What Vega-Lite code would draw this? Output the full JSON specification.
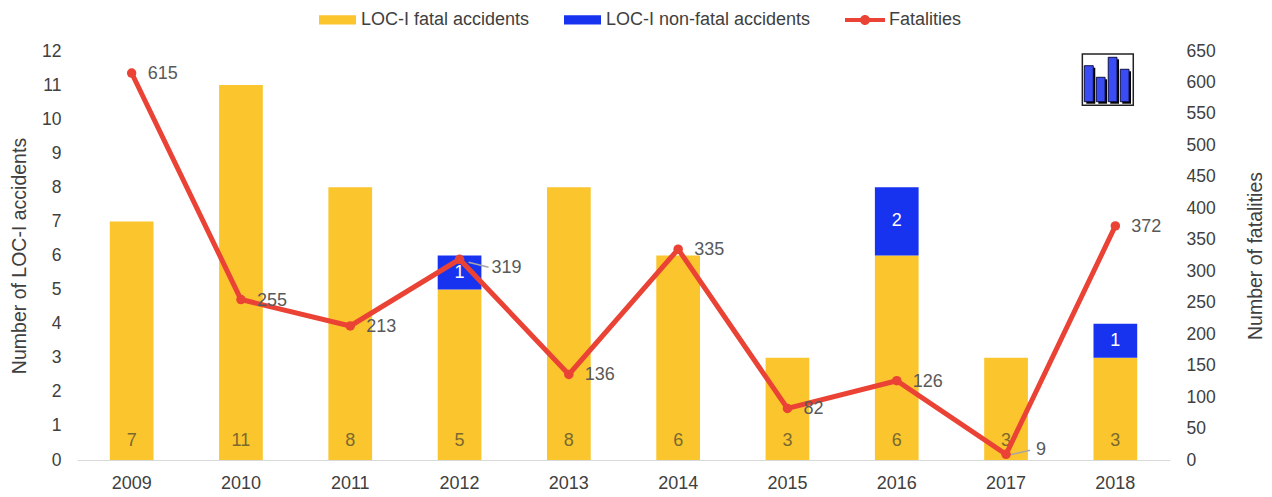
{"$schema":"https://vega.github.io/schema/vega-lite/v6.json","width":1093,"height":409,"autosize":{"type":"none"},"padding":{"left":77,"top":51,"right":102,"bottom":37},"background":"white","config":{"view":{"stroke":null},"font":"Liberation Sans"},"datasets":{"bars":[{"year":"2009","type":"LOC-I fatal accidents","count":7,"base":0,"top":7},{"year":"2010","type":"LOC-I fatal accidents","count":11,"base":0,"top":11},{"year":"2011","type":"LOC-I fatal accidents","count":8,"base":0,"top":8},{"year":"2012","type":"LOC-I fatal accidents","count":5,"base":0,"top":5},{"year":"2013","type":"LOC-I fatal accidents","count":8,"base":0,"top":8},{"year":"2014","type":"LOC-I fatal accidents","count":6,"base":0,"top":6},{"year":"2015","type":"LOC-I fatal accidents","count":3,"base":0,"top":3},{"year":"2016","type":"LOC-I fatal accidents","count":6,"base":0,"top":6},{"year":"2017","type":"LOC-I fatal accidents","count":3,"base":0,"top":3},{"year":"2018","type":"LOC-I fatal accidents","count":3,"base":0,"top":3},{"year":"2012","type":"LOC-I non-fatal accidents","count":1,"base":5,"top":6,"middle":5.5},{"year":"2016","type":"LOC-I non-fatal accidents","count":2,"base":6,"top":8,"middle":7},{"year":"2018","type":"LOC-I non-fatal accidents","count":1,"base":3,"top":4,"middle":3.5}],"line":[{"year":"2009","fatalities":615,"series":"Fatalities","group":"near"},{"year":"2010","fatalities":255,"series":"Fatalities","group":"near"},{"year":"2011","fatalities":213,"series":"Fatalities","group":"near"},{"year":"2012","fatalities":319,"series":"Fatalities","group":"a"},{"year":"2013","fatalities":136,"series":"Fatalities","group":"near"},{"year":"2014","fatalities":335,"series":"Fatalities","group":"near"},{"year":"2015","fatalities":82,"series":"Fatalities","group":"near"},{"year":"2016","fatalities":126,"series":"Fatalities","group":"near"},{"year":"2017","fatalities":9,"series":"Fatalities","group":"b"},{"year":"2018","fatalities":372,"series":"Fatalities","group":"near"}],"icon":[{"x0":92.16,"x1":92.98,"y0":87.6,"y1":96.4},{"x0":93.26,"x1":94.06,"y0":87.6,"y1":93.57},{"x0":94.35,"x1":95.15,"y0":87.6,"y1":98.46},{"x0":95.45,"x1":96.25,"y0":87.6,"y1":95.53}],"iconBox":[{"x0":91.98,"x1":96.64,"y0":86.72,"y1":99.27}]},"resolve":{"scale":{"x":"independent","y":"independent"},"axis":{"x":"independent","y":"independent"}},"layer":[{"data":{"name":"bars"},"encoding":{"x":{"field":"year","type":"nominal","scale":{"paddingInner":0.6,"paddingOuter":0.3},"axis":{"title":null,"labelAngle":0,"ticks":false,"domainColor":"#d9d9d9","labelFontSize":18,"labelColor":"#404040","labelPadding":14}}},"layer":[{"mark":{"type":"bar"},"encoding":{"y":{"field":"base","type":"quantitative","scale":{"domain":[0,12]},"axis":{"title":"Number of LOC-I accidents","titleFontSize":19.5,"titleFontWeight":"normal","titleColor":"#404040","titlePadding":12,"values":[0,1,2,3,4,5,6,7,8,9,10,11,12],"labelOverlap":false,"grid":false,"domain":false,"ticks":false,"labelFontSize":17.5,"labelColor":"#404040","labelPadding":16}},"y2":{"field":"top"},"color":{"field":"type","type":"nominal","scale":{"domain":["LOC-I fatal accidents","LOC-I non-fatal accidents"],"range":["#FBC52D","#1733F0"]},"legend":{"title":null,"orient":"none","legendX":241,"legendY":-51,"direction":"horizontal","symbolType":"M-1,-0.25H1V0.25H-1Z","symbolSize":1369,"labelFontSize":18,"labelColor":"#404040","labelLimit":400,"columnPadding":33,"labelOffset":4}}}},{"transform":[{"filter":"datum.base == 0"}],"mark":{"type":"text","fontSize":18,"color":"#7a6a30","dy":-19},"encoding":{"y":{"datum":0,"type":"quantitative","axis":{"title":"Number of LOC-I accidents","titleFontSize":19.5,"titleFontWeight":"normal","titleColor":"#404040","titlePadding":12,"values":[0,1,2,3,4,5,6,7,8,9,10,11,12],"labelOverlap":false,"grid":false,"domain":false,"ticks":false,"labelFontSize":17.5,"labelColor":"#404040","labelPadding":16}},"text":{"field":"count"}}},{"transform":[{"filter":"datum.base > 0"}],"mark":{"type":"text","fontSize":18,"color":"white"},"encoding":{"y":{"field":"middle","type":"quantitative","axis":{"title":"Number of LOC-I accidents","titleFontSize":19.5,"titleFontWeight":"normal","titleColor":"#404040","titlePadding":12,"values":[0,1,2,3,4,5,6,7,8,9,10,11,12],"labelOverlap":false,"grid":false,"domain":false,"ticks":false,"labelFontSize":17.5,"labelColor":"#404040","labelPadding":16}},"text":{"field":"count"}}}]},{"data":{"name":"line"},"encoding":{"x":{"field":"year","type":"nominal","scale":{"paddingInner":0.6,"paddingOuter":0.3},"axis":null},"y":{"field":"fatalities","type":"quantitative","scale":{"domain":[0,650]},"axis":{"orient":"right","title":"Number of fatalities","titleAngle":270,"titleFontSize":19.5,"titleFontWeight":"normal","titleColor":"#404040","titlePadding":50,"values":[0,50,100,150,200,250,300,350,400,450,500,550,600,650],"labelOverlap":false,"grid":false,"domain":false,"ticks":false,"labelFontSize":17.5,"labelColor":"#404040","labelPadding":16}}},"layer":[{"transform":[{"filter":"datum.group == 'a'"}],"mark":{"type":"rule","color":"#a6a6a6","strokeWidth":1.5,"xOffset":9,"x2Offset":29,"yOffset":3,"y2Offset":8},"encoding":{"x2":{"field":"year"},"y2":{"field":"fatalities"}}},{"transform":[{"filter":"datum.group == 'b'"}],"mark":{"type":"rule","color":"#a6a6a6","strokeWidth":1.5,"xOffset":2,"x2Offset":24,"yOffset":1,"y2Offset":-4},"encoding":{"x2":{"field":"year"},"y2":{"field":"fatalities"}}},{"mark":{"type":"line","strokeWidth":5},"encoding":{"stroke":{"field":"series","type":"nominal","scale":{"range":["#EA4335"]},"legend":{"title":null,"orient":"none","legendX":768,"legendY":-51,"symbolType":"M-1,-0.1H1V0.1H-1Z M0.25,0A0.25,0.25 0 1 1 -0.25,0A0.25,0.25 0 1 1 0.25,0Z","symbolSize":1600,"symbolFillColor":"#EA4335","symbolStrokeColor":"#EA4335","symbolStrokeWidth":0,"labelFontSize":18,"labelColor":"#404040","labelOffset":4}}}},{"mark":{"type":"circle","size":90,"color":"#EA4335","opacity":1}},{"transform":[{"filter":"datum.group == 'near'"}],"mark":{"type":"text","fontSize":18,"color":"#595959","align":"left","dx":16,"dy":1},"encoding":{"text":{"field":"fatalities"}}},{"transform":[{"filter":"datum.group == 'a'"}],"mark":{"type":"text","fontSize":18,"color":"#595959","align":"left","dx":32,"dy":9},"encoding":{"text":{"field":"fatalities"}}},{"transform":[{"filter":"datum.group == 'b'"}],"mark":{"type":"text","fontSize":18,"color":"#595959","align":"left","dx":30,"dy":-4},"encoding":{"text":{"field":"fatalities"}}}]},{"encoding":{"x":{"field":"x0","type":"quantitative","scale":{"domain":[0,100]},"axis":null},"x2":{"field":"x1"},"y":{"field":"y0","type":"quantitative","scale":{"domain":[0,100]},"axis":null},"y2":{"field":"y1"}},"layer":[{"data":{"name":"iconBox"},"mark":{"type":"rect","fill":"white","stroke":"#222222","strokeWidth":1.5}},{"data":{"name":"icon"},"mark":{"type":"rect","fill":"#000000","xOffset":2,"x2Offset":2,"yOffset":2,"y2Offset":2}},{"data":{"name":"icon"},"mark":{"type":"rect","fill":"#3A4DF5","stroke":"#101040","strokeWidth":1}}]}]}
